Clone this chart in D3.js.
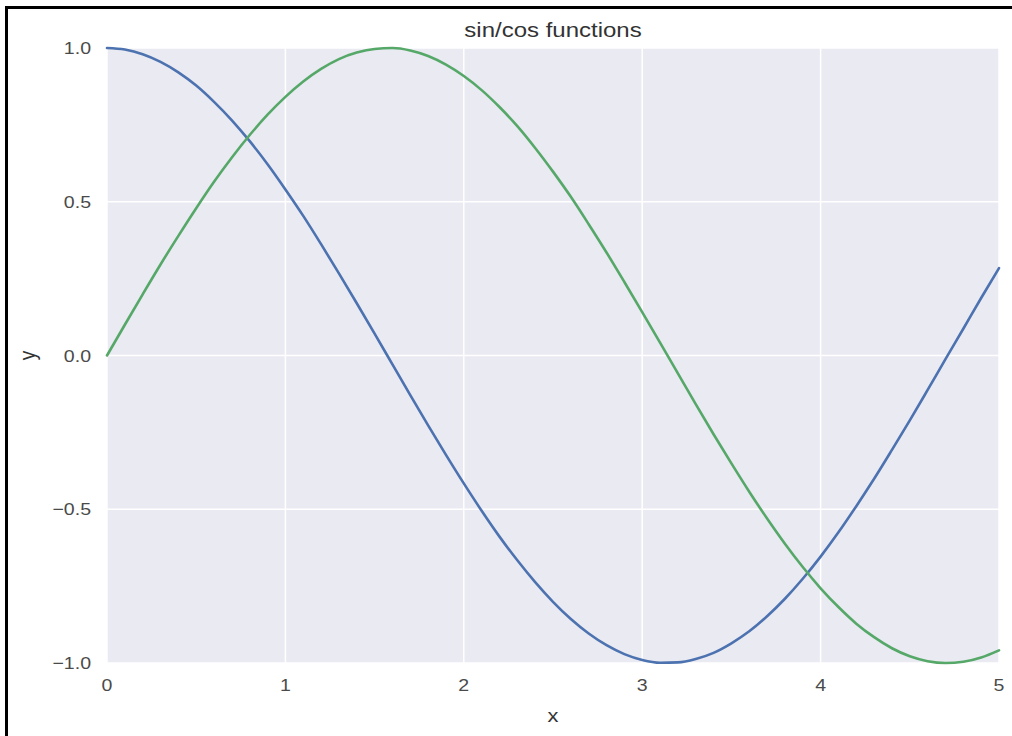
<!DOCTYPE html>
<html><head><meta charset="utf-8">
<script src="https://cdn.jsdelivr.net/npm/d3@7"></script>
<style>html,body{margin:0;padding:0;background:#fff;}svg{display:block;}</style>
</head><body>
<svg id="c" width="1012" height="736"></svg>
<script>
const xValues = [0,0.1,0.2,0.3,0.4,0.5,0.6,0.7,0.8,0.9,1.0,1.1,1.2,1.3,1.4,1.5,1.6,1.7,1.8,1.9,2.0,2.1,2.2,2.3,2.4,2.5,2.6,2.7,2.8,2.9,3.0,3.1,3.2,3.3,3.4,3.5,3.6,3.7,3.8,3.9,4.0,4.1,4.2,4.3,4.4,4.5,4.6,4.7,4.8,4.9,5.0];
const cosValues = [1.000,0.995,0.980,0.955,0.921,0.878,0.825,0.765,0.697,0.622,0.540,0.454,0.362,0.267,0.170,0.071,-0.029,-0.129,-0.227,-0.323,-0.416,-0.505,-0.589,-0.666,-0.737,-0.801,-0.857,-0.904,-0.942,-0.971,-0.990,-0.999,-0.998,-0.987,-0.967,-0.936,-0.897,-0.848,-0.791,-0.726,-0.654,-0.575,-0.490,-0.401,-0.307,-0.211,-0.112,-0.012,0.087,0.187,0.284];
const sinValues = [0.000,0.100,0.199,0.296,0.389,0.479,0.565,0.644,0.717,0.783,0.841,0.891,0.932,0.964,0.985,0.997,1.000,0.992,0.974,0.946,0.909,0.863,0.808,0.746,0.675,0.598,0.516,0.427,0.335,0.239,0.141,0.042,-0.058,-0.158,-0.256,-0.351,-0.443,-0.530,-0.612,-0.688,-0.757,-0.818,-0.872,-0.916,-0.952,-0.978,-0.994,-1.000,-0.996,-0.982,-0.959];
const xTicks = [0,1,2,3,4,5];
const yTicks = [-1.0,-0.5,0.0,0.5,1.0];
const xTickLabels = ["0","1","2","3","4","5"];
const yTickLabels = ["\u22121.0","\u22120.5","0.0","0.5","1.0"];
const title = "sin/cos functions";
const xLabel = "x";
const yLabel = "y";

const svg = d3.select("#c");
const L = 107, R = 999, T = 48, B = 663;
const x = d3.scaleLinear().domain([0,5]).range([L,R]);
const y = d3.scaleLinear().domain([-1,1]).range([B,T]);
const font = "'Liberation Sans', Arial, sans-serif";
const SX = 1.15; // horizontal stretch of the text in the reference

// frame of the screenshot
svg.append("rect").attr("x",5).attr("y",6).attr("width",1007).attr("height",3).attr("fill","#000");
svg.append("rect").attr("x",5).attr("y",6).attr("width",3).attr("height",730).attr("fill","#000");

svg.append("rect").attr("x",L).attr("y",T).attr("width",R-L).attr("height",B-T).attr("fill","#eaeaf2");

const g = svg.append("g");
g.selectAll("line.gx").data(xTicks).join("line").attr("class","gx")
  .attr("x1",d=>x(d)).attr("x2",d=>x(d)).attr("y1",T).attr("y2",B)
  .attr("stroke","#fff").attr("stroke-width",1.5);
g.selectAll("line.gy").data(yTicks).join("line").attr("class","gy")
  .attr("x1",L).attr("x2",R).attr("y1",d=>y(d)).attr("y2",d=>y(d))
  .attr("stroke","#fff").attr("stroke-width",1.5);

svg.append("g").selectAll("text").data(xTicks).join("text")
  .attr("transform",d=>`translate(${x(d)},${B+28}) scale(${SX},1)`)
  .attr("text-anchor","middle").attr("font-family",font).attr("font-size",17).attr("fill","#4a4a4a")
  .text((d,i)=>xTickLabels[i]);
svg.append("g").selectAll("text").data(yTicks).join("text")
  .attr("transform",d=>`translate(${L-16},${y(d)+6}) scale(${SX},1)`)
  .attr("text-anchor","end").attr("font-family",font).attr("font-size",17).attr("fill","#4a4a4a")
  .text((d,i)=>yTickLabels[i]);

const line = d3.line().x((d,i)=>x(xValues[i])).y(d=>y(d)).curve(d3.curveMonotoneX);
svg.append("path").datum(cosValues).attr("d",line).attr("fill","none")
  .attr("stroke","#4c72b0").attr("stroke-width",2.6).attr("stroke-linecap","round");
svg.append("path").datum(sinValues).attr("d",line).attr("fill","none")
  .attr("stroke","#55a868").attr("stroke-width",2.6).attr("stroke-linecap","round");

svg.append("text").attr("transform",`translate(${(L+R)/2},37) scale(1.2,1)`).attr("text-anchor","middle")
  .attr("font-family",font).attr("font-size",20).attr("fill","#333").text(title);
svg.append("text").attr("transform",`translate(${(L+R)/2},722) scale(1.15,1)`).attr("text-anchor","middle")
  .attr("font-family",font).attr("font-size",19).attr("fill","#333").text(xLabel);
svg.append("text").attr("transform",`translate(35,${(T+B)/2}) rotate(-90) scale(1,1.15)`).attr("text-anchor","middle")
  .attr("font-family",font).attr("font-size",19).attr("fill","#333").text(yLabel);
</script>
</body></html>
